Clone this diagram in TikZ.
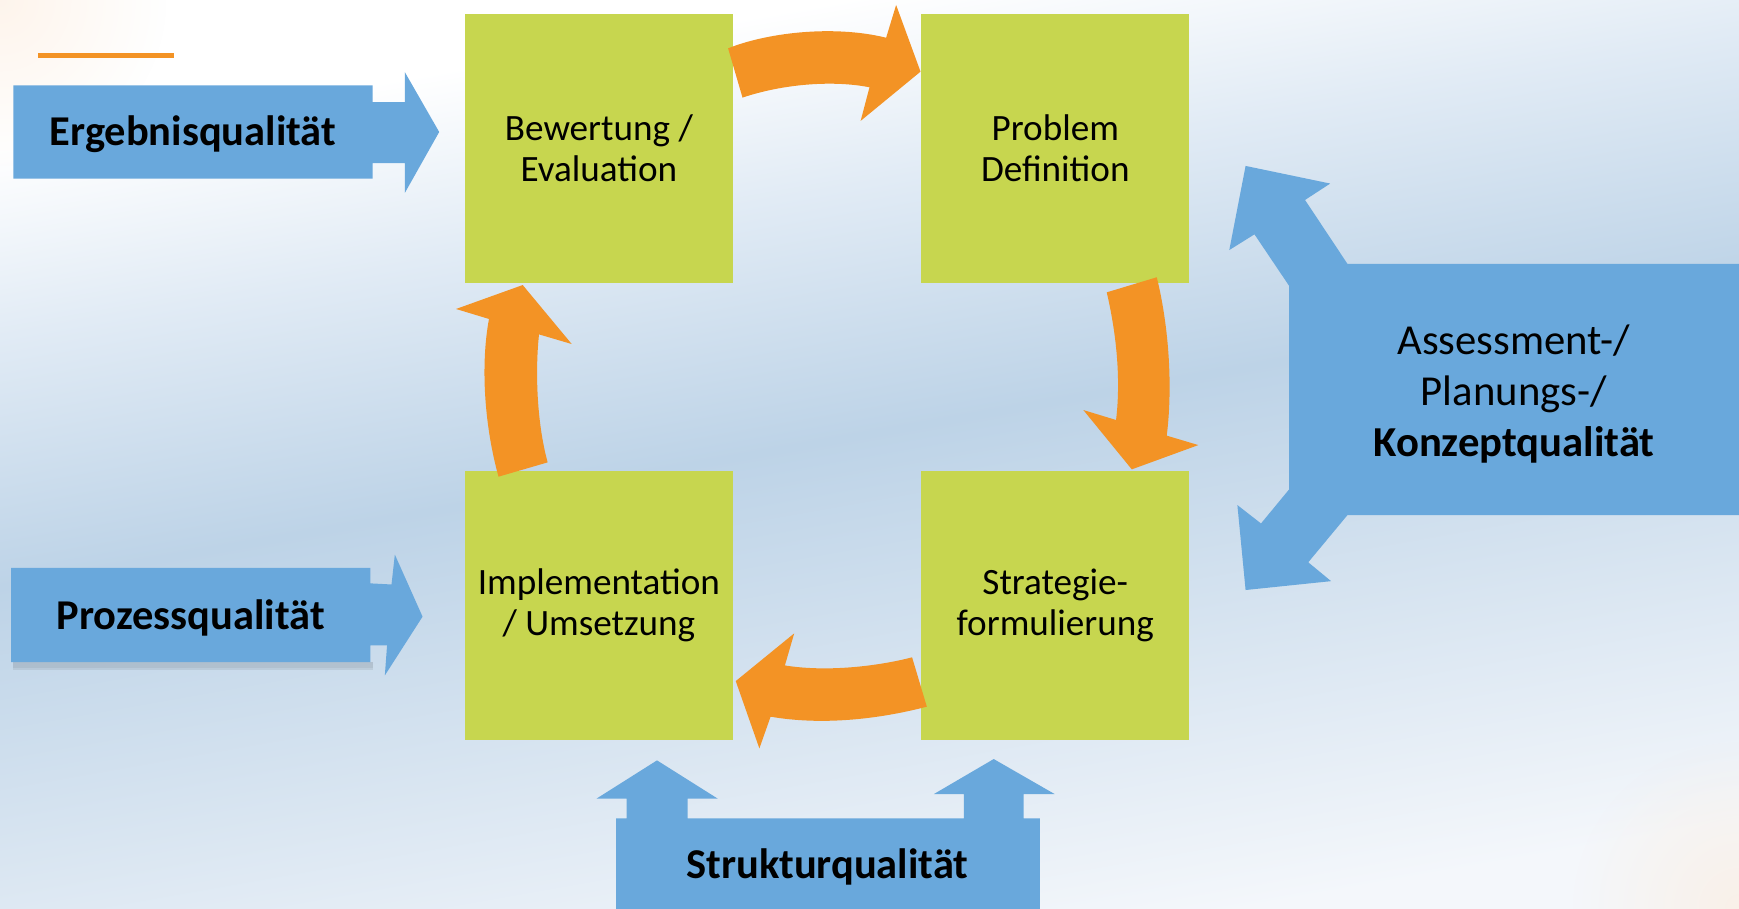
\documentclass[tikz,border=0pt]{standalone}
\usepackage{fontspec}
\setmainfont{Carlito}
\usetikzlibrary{fadings}
\definecolor{gboxc}{RGB}{199,214,79}
\definecolor{orarr}{RGB}{243,147,37}
\definecolor{blarr}{RGB}{105,168,220}
\definecolor{bgmid}{RGB}{189,211,231}
\definecolor{bgbot}{RGB}{244,247,251}
\definecolor{bgup}{RGB}{225,235,245}
\definecolor{peach}{RGB}{253,236,220}
\pgfdeclareverticalshading{bgshade}{100bp}{color(0bp)=(bgbot); color(25bp)=(bgbot); color(51bp)=(bgmid); color(63bp)=(bgup); color(72bp)=(white); color(100bp)=(white)}
\tikzfading[name=softcirc, inner color=transparent!0, outer color=transparent!100]
\begin{document}
\begin{tikzpicture}[x=1pt,y=-1pt,
  gbox/.style={fill=gboxc, minimum width=242pt, minimum height=242pt, inner sep=0pt, align=center, font=\fontsize{33.5}{37}\selectfont},
  blab/.style={font=\fontsize{38.3}{46}\selectfont\bfseries, anchor=base, inner sep=0pt},
  alab/.style={font=\fontsize{38.5}{46}\selectfont, align=center, inner sep=0pt},
  oarr/.style={fill=orarr},
  barr/.style={fill=blarr}]
\useasboundingbox (0,0) rectangle (1568,819);
\shade[shading=bgshade, shading angle=10] (0,0) rectangle (1568,819);
\begin{scope}
\clip (0,0) rectangle (1568,819);
\fill[peach, path fading=softcirc, opacity=0.55] (0,0) circle (150);
\fill[peach, path fading=softcirc, opacity=0.6] (1568,819) circle (150);
\end{scope}
% orange line
\fill[orarr] (34,48) rectangle (157,52);
% green boxes
\node[gbox] (bew) at (540,134) {Bewertung /\\Evaluation};
\node[gbox] (prob) at (951.5,134) {Problem\\Definition};
\node[gbox] (impl) at (540,546) {Implementation\\/ Umsetzung};
\node[gbox] (strat) at (951.5,546) {Strategie-\\formulierung};
% orange curved arrows
\fill[oarr] (656.5,43.6) .. controls (690,30) and (750,22) .. (799,34) -- (808,4.5) -- (830,64.6) -- (776,109) -- (784,78.7) .. controls (750,72) and (705,76) .. (669.5,88) -- cycle;
\fill[oarr] (997.9,263.6) .. controls (1006,298) and (1011,340) .. (1006.3,378.7) -- (976.8,369.7) -- (1020.5,423.2) -- (1080.5,401.3) -- (1052,392.8) .. controls (1058,345) and (1053,290) .. (1043,250) -- cycle;
\fill[oarr] (822.4,592.7) .. controls (790,601) and (745,606) .. (707.7,600) -- (716.1,571.1) -- (663.4,614.1) -- (684.7,674.8) -- (694.8,646.2) .. controls (740,654) and (790,649) .. (835.7,637.2) -- cycle;
\fill[oarr] (449.5,429.8) .. controls (437,385) and (433,330) .. (440.9,287.6) -- (411.2,278.6) -- (471.3,257) -- (515.5,310.2) -- (486,301.5) .. controls (482,340) and (485,385) .. (493.8,416.9) -- cycle;
% blue arrows
\fill[barr] (12,77) -- (336,77) -- (336,92) -- (365,92) -- (365,65) -- (396,119) -- (365,174) -- (365,147) -- (336,147) -- (336,161) -- (12,161) -- cycle;
\node[blab] (erg) at (174,131.3) {Ergebnisqualität};
\fill[black, opacity=0.12] (12,597) rectangle (336,602);
\fill[black, opacity=0.07] (12,602) rectangle (336,604);
\fill[barr] (10,512) -- (334,512) -- (334,526) -- (353,527) -- (356,500) -- (381,556) -- (347,609) -- (349,582) -- (334,582) -- (334,597) -- (10,597) -- cycle;
\node[blab] (proz) at (172,568) {Prozessqualität};
\fill[barr] (555.5,825) -- (555.5,738) -- (565,738) -- (565,720) -- (538,720) -- (592.4,685.6) -- (647,720) -- (620,720) -- (620,738) -- (869,738) -- (869,716) -- (842,716) -- (896,684.4) -- (951,716) -- (923,716) -- (923,738) -- (937.5,738) -- (937.5,825) -- cycle;
\node[blab] (strk) at (746,792) {Strukturqualität};
\fill[barr] (1580,238) -- (1215,238) -- (1176.7,180.3) -- (1199.4,165.5) -- (1123.1,149.6) -- (1108.4,225.5) -- (1131.1,211.3) -- (1162.4,257.8) -- (1162.4,441.2) -- (1137,472) -- (1115.7,455.4) -- (1123.1,532) -- (1200.2,524) -- (1179.6,507) -- (1215,464.4) -- (1580,464.4) -- cycle;
\node[alab] (konz) at (1365,355.5) {Assessment-/\\Planungs-/\\\textbf{Konzeptqualität}};
\end{tikzpicture}
\end{document}
